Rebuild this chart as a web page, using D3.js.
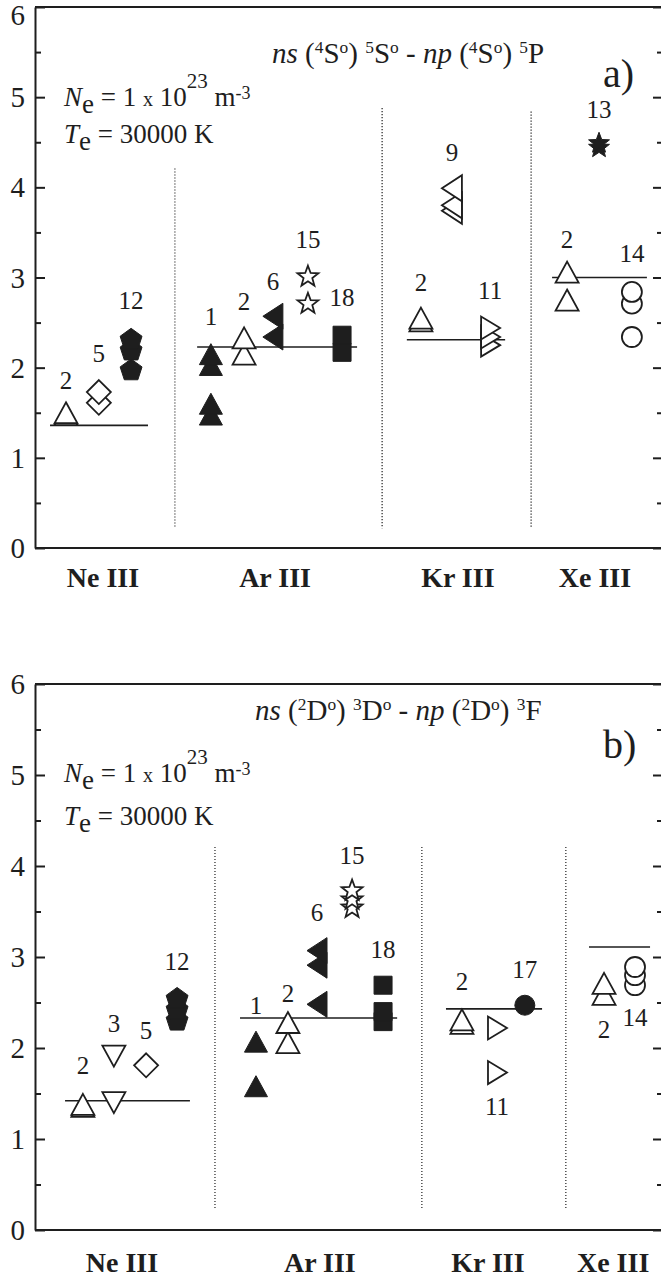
<!DOCTYPE html>
<html>
<head>
<meta charset="utf-8">
<script src="https://cdn.jsdelivr.net/npm/d3@7"></script>
<style>
  body { margin: 0; background: #fff; }
  svg { display: block; }
</style>
</head>
<body>
<div id="chart"></div>
<script>
// stark widths, two multiplets, four ions
const groups = ["Ne III", "Ar III", "Kr III", "Xe III"];
const yTicks = [0, 1, 2, 3, 4, 5, 6];
const yMinor = [0.5, 1.5, 2.5, 3.5, 4.5, 5.5];

// panel a)  ns (4So) 5So - np (4So) 5P
const groupPosA = [2.17, 7.67, 13.51, 17.89];
const sepXA = [4.47, 11.09, 15.85];
const sepTopA = [4.21, 4.88, 4.84];
const refA = [1.36, 2.23, 2.31, 3.0];
const refFromA = [0.48, 5.18, 11.88, 16.52];
const refToA = [3.61, 10.29, 15.02, 19.55];
const srcA = ["2", "5", "12", "1", "2", "6", "15", "18", "2", "9", "11", "2", "14", "13"];
const symA = ["triUp", "diamond", "pentagon", "triUp", "triUp", "triLeft", "star", "square",
              "triUp", "triLeft", "triRight", "triUp", "circle", "star"];
const fillA = [0, 0, 1, 1, 0, 1, 0, 1, 0, 0, 0, 0, 0, 1];
const slotA = [0.99, 2.04, 3.07, 5.62, 6.68, 7.6, 8.72, 9.81, 12.33, 13.32, 14.54, 17.0, 19.07, 18.02];
const valsA = [[1.48, 1.50], [1.61, 1.73], [1.98, 2.2, 2.32], [1.48, 1.60, 2.03, 2.15],
               [2.15, 2.33], [2.34, 2.57], [2.72, 3.02], [2.17, 2.36], [2.52, 2.55],
               [3.74, 3.80, 3.99], [2.25, 2.34, 2.44], [2.75, 3.06], [2.34, 2.71, 2.84], [4.45, 4.5]];
const labelYA = [1.86, 2.16, 2.75, 2.57, 2.73, 2.96, 3.42, 2.78, 2.94, 4.39, 2.86, 3.42, 3.27, 4.86];

// panel b)  ns (2Do) 3Do - np (2Do) 3F
const groupPosB = [2.78, 9.1, 14.47, 18.47];
const sepXB = [5.75, 12.36, 16.96];
const sepTopB = [4.21, 4.21, 4.21];
const refB = [1.42, 2.33, 2.43, 3.11];
const refFromB = [0.96, 6.55, 13.13, 17.7];
const refToB = [4.95, 11.57, 16.2, 19.65];
const srcB = ["2", "3", "5", "12", "1", "2", "6", "15", "18", "2", "11", "17", "2", "14"];
const symB = ["triUp", "triDown", "diamond", "pentagon", "triUp", "triUp", "triLeft", "star", "square",
              "triUp", "triRight", "circle", "triUp", "circle"];
const fillB = [0, 0, 0, 1, 1, 0, 1, 0, 1, 0, 0, 1, 0, 0];
const slotB = [1.53, 2.52, 3.55, 4.54, 7.06, 8.08, 9.01, 10.13, 11.12, 13.64, 14.76, 15.65, 18.18, 19.17];
const valsB = [[1.36, 1.38], [1.40, 1.91], [1.81], [2.31, 2.43, 2.55], [1.58, 2.07], [2.06, 2.28],
               [2.48, 2.91, 3.07], [3.55, 3.64, 3.74], [2.29, 2.40, 2.69], [2.27, 2.31], [1.73, 2.22],
               [2.47], [2.59, 2.71], [2.69, 2.80, 2.89]];
const labelYB = [1.81, 2.27, 2.19, 2.95, 2.47, 2.6, 3.49, 4.12, 3.08, 2.73, 1.36, 2.86, 2.2, 2.34];

const W = 661, H = 1278;
const INK = "#1e1e1e";
const LEFT = 35, RIGHT = 662;
const SERIF = "Liberation Serif";

const svg = d3.select("#chart").append("svg")
    .attr("width", W)
    .attr("height", H);

// marker shapes, centred on their bounding box
function shapePath(type) {
  const p = d3.path();
  if (type === "triUp") {
    p.moveTo(0, -10.5); p.lineTo(11.5, 10.5); p.lineTo(-11.5, 10.5); p.closePath();
  } else if (type === "triDown") {
    p.moveTo(0, 10.5); p.lineTo(11.5, -10.5); p.lineTo(-11.5, -10.5); p.closePath();
  } else if (type === "triLeft") {
    p.moveTo(-10, 0); p.lineTo(10, -13); p.lineTo(10, 13); p.closePath();
  } else if (type === "triRight") {
    p.moveTo(10, 0); p.lineTo(-9, -11.5); p.lineTo(-9, 11.5); p.closePath();
  } else if (type === "diamond") {
    p.moveTo(0, -12); p.lineTo(12, 0); p.lineTo(0, 12); p.lineTo(-12, 0); p.closePath();
  } else if (type === "square") {
    p.rect(-9, -9, 18, 18);
  } else if (type === "circle") {
    p.moveTo(10, 0); p.arc(0, 0, 10, 0, 2 * Math.PI);
  } else if (type === "pentagon") {
    for (let i = 0; i < 5; i++) {
      const a = -Math.PI / 2 + i * 2 * Math.PI / 5;
      const px = 11.5 * Math.cos(a), py = 11.5 * Math.sin(a) + 1;
      if (i === 0) p.moveTo(px, py); else p.lineTo(px, py);
    }
    p.closePath();
  } else if (type === "star") {
    for (let i = 0; i < 10; i++) {
      const a = -Math.PI / 2 + i * Math.PI / 5;
      const r = i % 2 === 0 ? 11 : 4.6;
      const px = r * Math.cos(a), py = r * Math.sin(a) + 1;
      if (i === 0) p.moveTo(px, py); else p.lineTo(px, py);
    }
    p.closePath();
  }
  return p.toString();
}

function addText(g) {
  return g.append("text").attr("font-family", SERIF).attr("fill", INK);
}

// text with italic / sub / sup pieces
function richText(g, x, yBase, size, parts) {
  const t = addText(g).attr("x", x).attr("y", yBase).attr("font-size", size);
  parts.forEach(([s, kind]) => {
    const ts = t.append("tspan").text(s);
    if (kind === "i") ts.attr("font-style", "italic");
    if (kind === "sup") ts.attr("font-size", size * 0.6).attr("dy", -size * 0.36);
    if (kind === "supEnd") ts.attr("dy", size * 0.36);
    if (kind && kind.dy !== undefined) {
      ts.attr("dy", kind.dy);
      if (kind.size) ts.attr("font-size", kind.size);
    }
  });
  return t;
}

function drawPanel(p) {
  const x = d3.scaleLinear().domain([0, 20]).range([LEFT, 661]);
  const y = d3.scaleLinear().domain([0, 6]).range([p.bottom, p.top]);
  const g = svg.append("g");

  // dotted separators between ions
  g.selectAll(".sep")
    .data(p.sepX)
    .enter().append("line")
      .attr("x1", d => x(d)).attr("x2", d => x(d))
      .attr("y1", (d, i) => y(p.sepTop[i]))
      .attr("y2", y(0.22))
      .attr("stroke", INK)
      .attr("stroke-width", 1.2)
      .attr("stroke-dasharray", "1.2,1.8");

  // reference lines
  g.selectAll(".ref")
    .data(p.ref)
    .enter().append("line")
      .attr("x1", (d, i) => x(p.refFrom[i]))
      .attr("x2", (d, i) => x(p.refTo[i]))
      .attr("y1", d => y(d)).attr("y2", d => y(d))
      .attr("stroke", INK)
      .attr("stroke-width", 1.6);

  // markers, lower ones first so the upper ones sit on top
  const pts = [];
  p.src.forEach((s, i) => {
    p.vals[i].slice().sort((a, b) => a - b).forEach(v => {
      pts.push({ sym: p.sym[i], fill: p.fill[i], slot: p.slot[i], v: v });
    });
  });
  g.selectAll(".pt")
    .data(pts)
    .enter().append("path")
      .attr("d", d => shapePath(d.sym))
      .attr("transform", d => "translate(" + x(d.slot) + "," + y(d.v) + ")")
      .attr("fill", d => d.fill ? INK : "#fff")
      .attr("stroke", INK)
      .attr("stroke-width", d => d.fill ? 1 : 1.8)
      .attr("stroke-linejoin", "miter");

  // source numbers
  p.src.forEach((s, i) => {
    addText(g)
      .attr("x", x(p.slot[i]))
      .attr("y", y(p.labelY[i]) + 8.5)
      .attr("text-anchor", "middle")
      .attr("font-size", 25)
      .text(s);
  });

  // frame: left axis with inward ticks
  g.append("g")
    .attr("transform", "translate(" + LEFT + ",0)")
    .call(d3.axisLeft(y).tickValues(yMinor).tickSizeInner(-6).tickSizeOuter(0).tickFormat(""))
    .call(a => a.select(".domain").remove())
    .selectAll("line").attr("stroke", INK).attr("stroke-width", 2);
  const la = g.append("g")
    .attr("transform", "translate(" + LEFT + ",0)")
    .call(d3.axisLeft(y).tickValues(yTicks).tickSizeInner(-10).tickSizeOuter(0).tickPadding(10)
            .tickFormat(d3.format("d")));
  la.attr("font-family", SERIF);
  la.select(".domain").attr("stroke", INK).attr("stroke-width", 2);
  la.selectAll("line").attr("stroke", INK).attr("stroke-width", 2);
  la.selectAll("text")
    .attr("font-family", SERIF)
    .attr("font-size", 29)
    .attr("fill", INK)
    .attr("dy", d => (d === 6 ? p.topLabelShift : 0) + 9.5);

  // right axis, ticks only
  g.append("g")
    .attr("transform", "translate(" + RIGHT + ",0)")
    .call(d3.axisLeft(y).tickValues(yTicks).tickSizeInner(9).tickSizeOuter(0).tickFormat(""))
    .call(a => a.select(".domain").remove())
    .selectAll("line").attr("stroke", INK).attr("stroke-width", 2);
  g.append("g")
    .attr("transform", "translate(" + RIGHT + ",0)")
    .call(d3.axisLeft(y).tickValues(yMinor).tickSizeInner(5).tickSizeOuter(0).tickFormat(""))
    .call(a => a.select(".domain").remove())
    .selectAll("line").attr("stroke", INK).attr("stroke-width", 2);

  // top and bottom lines
  g.append("line")
    .attr("x1", LEFT).attr("x2", RIGHT)
    .attr("y1", y(6)).attr("y2", y(6))
    .attr("stroke", INK).attr("stroke-width", 2);
  g.append("line")
    .attr("x1", LEFT).attr("x2", RIGHT)
    .attr("y1", y(0)).attr("y2", y(0))
    .attr("stroke", INK).attr("stroke-width", 2.2);

  // ion names under the axis
  groups.forEach((name, i) => {
    addText(g)
      .attr("x", x(p.groupPos[i]))
      .attr("y", p.bottom + p.groupDy)
      .attr("text-anchor", "middle")
      .attr("font-size", 28)
      .attr("font-weight", "bold")
      .text(name);
  });

  // multiplet title
  richText(g, p.titleX, p.top + p.titleDy, 29, p.title);

  // panel letter
  addText(g)
    .attr("x", 603).attr("y", p.top + p.letterDy)
    .attr("font-size", 40)
    .text(p.letter);

  // plasma conditions
  richText(g, 64, p.top + p.neDy, 27, [
    ["N", "i"], ["e", { dy: 7 }], [" = 1 ", { dy: -7 }], ["x", { dy: 0, size: 20 }],
    [" 10", { dy: 0, size: 27 }], ["23", { dy: -18, size: 21 }], [" m", { dy: 18, size: 27 }],
    ["-3", { dy: -7, size: 18 }]
  ]);
  richText(g, 64, p.top + p.teDy, 27, [
    ["T", "i"], ["e", { dy: 7 }], [" = 30000 K", { dy: -7 }]
  ]);
}

const sup = (s) => [s, "sup"];
const back = (s) => [s, "supEnd"];

drawPanel({
  top: 7, bottom: 548, topLabelShift: 8,
  sepX: sepXA, sepTop: sepTopA,
  ref: refA, refFrom: refFromA, refTo: refToA,
  src: srcA, sym: symA, fill: fillA, slot: slotA, vals: valsA, labelY: labelYA,
  groupPos: groupPosA, groupDy: 39,
  titleX: 272, titleDy: 56,
  title: [["ns", "i"], [" ("], sup("4"), back("S"), sup("o"), back(") "), sup("5"), back("S"),
          sup("o"), back(" - "), ["np", "i"], [" ("], sup("4"), back("S"), sup("o"), back(") "),
          sup("5"), back("P")],
  letter: "a)", letterDy: 80,
  neDy: 99, teDy: 136
});

drawPanel({
  top: 684, bottom: 1230, topLabelShift: 0,
  sepX: sepXB, sepTop: sepTopB,
  ref: refB, refFrom: refFromB, refTo: refToB,
  src: srcB, sym: symB, fill: fillB, slot: slotB, vals: valsB, labelY: labelYB,
  groupPos: groupPosB, groupDy: 42,
  titleX: 255, titleDy: 36,
  title: [["ns", "i"], [" ("], sup("2"), back("D"), sup("o"), back(") "), sup("3"), back("D"),
          sup("o"), back(" - "), ["np", "i"], [" ("], sup("2"), back("D"), sup("o"), back(") "),
          sup("3"), back("F")],
  letter: "b)", letterDy: 74,
  neDy: 98, teDy: 141
});
</script>
</body>
</html>
